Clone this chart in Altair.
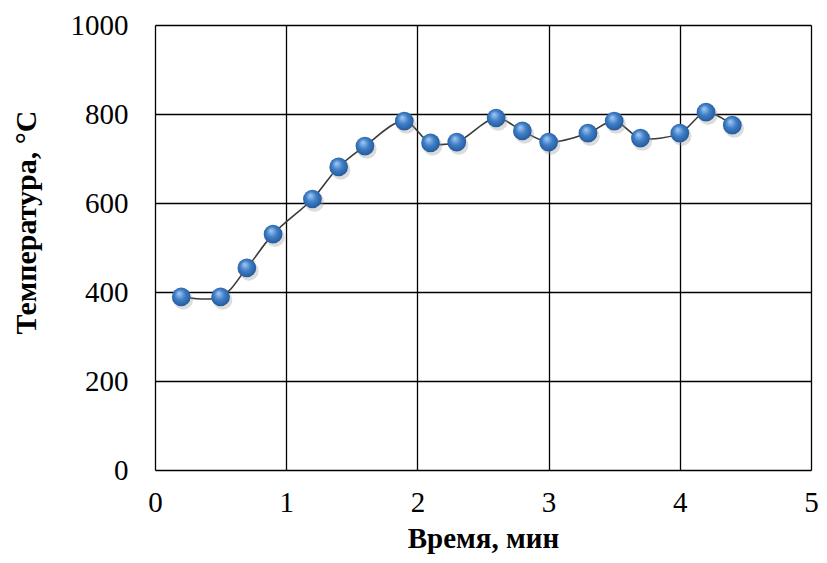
import altair as alt
import pandas as pd

time_min = [0.2, 0.5, 0.7, 0.9, 1.2, 1.4, 1.6, 1.9, 2.1, 2.3, 2.6, 2.8, 3.0, 3.3, 3.5, 3.7, 4.0, 4.2, 4.4]
temp_c = [389, 389, 454, 530, 609, 681, 728, 784, 735, 737, 791, 762, 737, 757, 784, 746, 757, 804, 775]

df = pd.DataFrame({"t": time_min, "T": temp_c})

FONT = "Liberation Serif"

x = alt.X("t:Q", scale=alt.Scale(domain=[0, 5], nice=False),
          axis=alt.Axis(values=[0, 1, 2, 3, 4, 5], title="Время, мин", format="d",
                        labelFontSize=29, titleFontSize=29, labelPadding=18, labelFlush=False,
                        titleY=77, titleBaseline="alphabetic",
                        ticks=False, domain=False, gridColor="#000000", gridWidth=1.3, gridOpacity=1,
                        labelColor="#000000", titleColor="#000000",
                        labelFont=FONT, titleFont=FONT, titleFontWeight="bold"))
y = alt.Y("T:Q", scale=alt.Scale(domain=[0, 1000], nice=False),
          axis=alt.Axis(values=[0, 200, 400, 600, 800, 1000], title="Температура, °C", format="d",
                        labelFontSize=29, titleFontSize=30, labelPadding=27, labelFlush=False,
                        titleX=-114, titleY=197, titleBaseline="bottom", titleAngle=270,
                        ticks=False, domain=False, gridColor="#000000", gridWidth=1.3, gridOpacity=1,
                        labelColor="#000000", titleColor="#000000",
                        labelFont=FONT, titleFont=FONT, titleFontWeight="bold"))

line = alt.Chart(df).mark_line(interpolate="catmull-rom", color="#3a3a3a", strokeWidth=1.6).encode(x=x, y=y)

shadow = alt.Chart(df).mark_point(filled=True, size=380, color="#9a9a9a", opacity=0.35,
                                   xOffset=2, yOffset=3).encode(x="t:Q", y="T:Q")

points = alt.Chart(df).mark_point(
    filled=True, size=350, opacity=1,
    fill=alt.RadialGradient(
        gradient="radial", x1=0.38, y1=0.3, r1=0.0, x2=0.5, y2=0.5, r2=0.62,
        stops=[alt.GradientStop(offset=0, color="#a9cdf5"),
               alt.GradientStop(offset=0.45, color="#3f7fc8"),
               alt.GradientStop(offset=1, color="#1c4d8c")]),
).encode(x="t:Q", y="T:Q")

chart = alt.layer(line, shadow, points).properties(
    width=656, height=445,
    autosize=alt.AutoSizeParams(type="none"),
    padding={"left": 147, "top": 17, "right": 8, "bottom": 85},
).configure_view(stroke="#000000", strokeWidth=1.5).configure(background="white")

chart.save("out.html", embed_options={"renderer": "svg", "actions": False})
